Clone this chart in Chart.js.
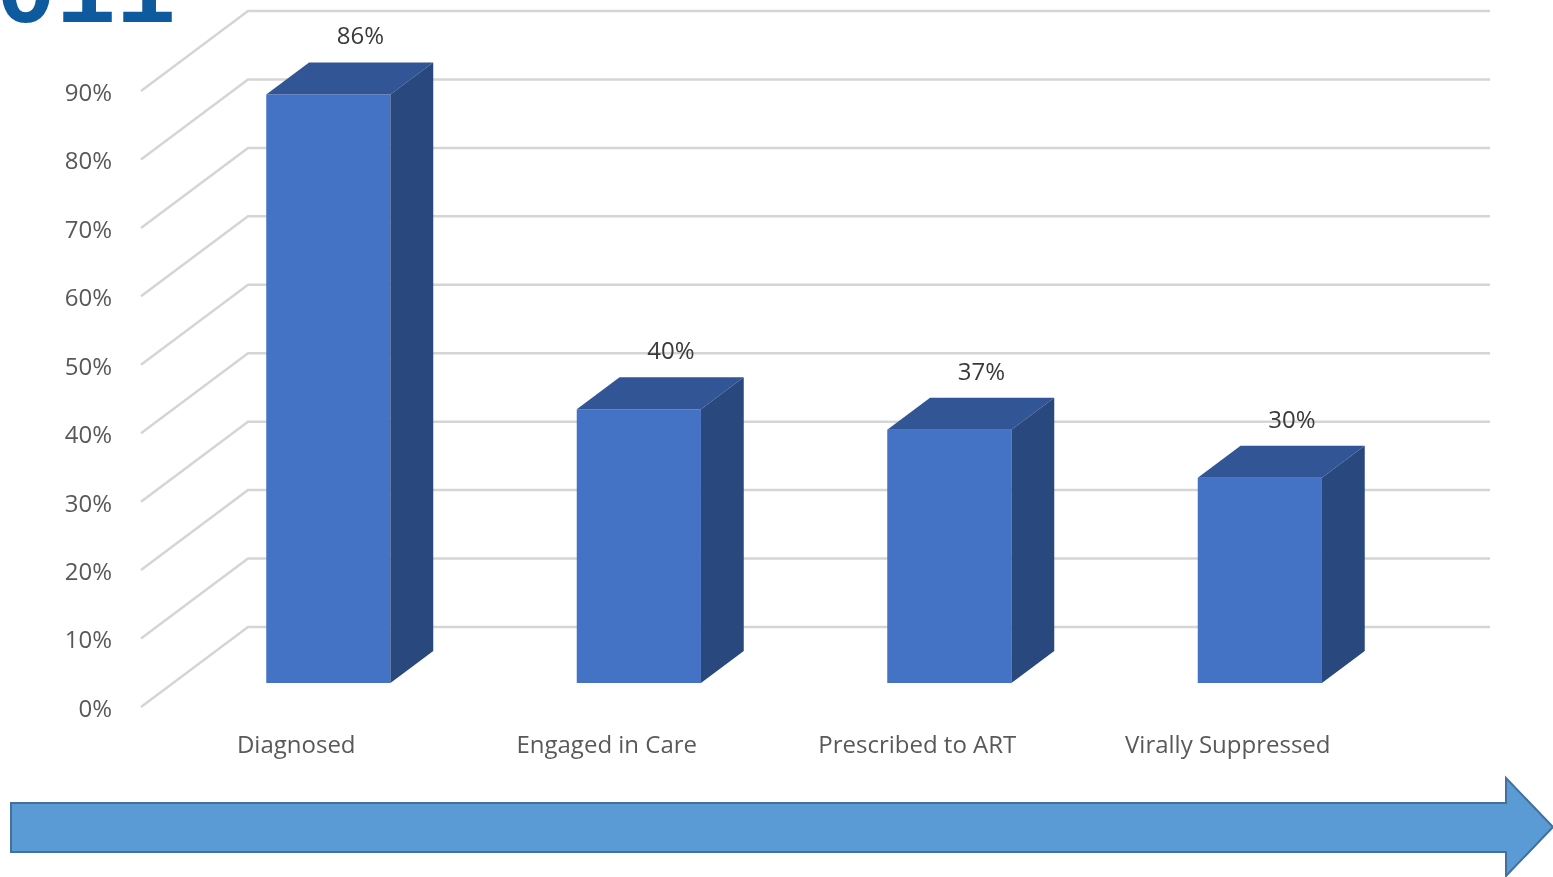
<!DOCTYPE html>
<html><head><meta charset="utf-8">
<script src="https://cdn.jsdelivr.net/npm/chart.js@4/dist/chart.umd.min.js"></script>
<style>
html,body{margin:0;padding:0;background:#fff;overflow:hidden;}
#wrap{position:relative;width:1553px;height:877px;}
#c{position:absolute;left:0;top:0;}
svg{position:absolute;left:0;top:0;}
</style></head><body>
<div id="wrap">
<canvas id="c" width="1553" height="877"></canvas>
<svg width="1553" height="877">
 <text x="-64" y="22" font-family="Liberation Mono" font-weight="bold" font-size="100" fill="#0E5A9E">2011</text>
 <polygon points="11,803 1506,803 1506,778 1553,827 1506,876 1506,852 11,852" fill="#5B9BD5" stroke="#41719C" stroke-width="2"/>
</svg>
</div>
<script>
const categories = ['Diagnosed', 'Engaged in Care', 'Prescribed to ART', 'Virally Suppressed'];
const values = [86, 40, 37, 30];
const yMax = 90;
const yStep = 10;

const FRONT = '#4472C4', TOP = '#325596', SIDE = '#29487D';
const WALL = {dx: 107, dy: -80};
const BAR_FRONT = 0.3, BAR_DEPTH = 0.4;
const FONT = "'Open Sans', 'Noto Sans', sans-serif";

const threeD = {
  id: 'threeD',
  beforeDatasetsDraw(chart) {
    const {ctx, chartArea: a, scales: {y}} = chart;
    ctx.save();
    ctx.strokeStyle = '#D5D5D5';
    ctx.lineWidth = 2.5;
    y.ticks.forEach(t => {
      const py = y.getPixelForValue(t.value);
      ctx.beginPath();
      ctx.moveTo(a.left, py);
      ctx.lineTo(a.left + WALL.dx, py + WALL.dy);
      ctx.lineTo(a.right + WALL.dx, py + WALL.dy);
      ctx.stroke();
    });
    ctx.restore();
    ctx.save();
    ctx.translate(WALL.dx * BAR_FRONT, WALL.dy * BAR_FRONT);
  },
  afterDatasetsDraw(chart) {
    const ctx = chart.ctx;
    const ddx = WALL.dx * BAR_DEPTH, ddy = WALL.dy * BAR_DEPTH;
    const meta = chart.getDatasetMeta(0);
    meta.data.forEach((bar, i) => {
      const {x, y, base, width} = bar.getProps(['x', 'y', 'base', 'width'], true);
      const l = x - width / 2, r = x + width / 2;
      ctx.fillStyle = TOP;
      ctx.beginPath();
      ctx.moveTo(l, y); ctx.lineTo(l + ddx, y + ddy); ctx.lineTo(r + ddx, y + ddy); ctx.lineTo(r, y);
      ctx.closePath(); ctx.fill();
      ctx.fillStyle = SIDE;
      ctx.beginPath();
      ctx.moveTo(r, y); ctx.lineTo(r + ddx, y + ddy); ctx.lineTo(r + ddx, base + ddy); ctx.lineTo(r, base);
      ctx.closePath(); ctx.fill();
      ctx.fillStyle = '#3A3A3A';
      ctx.font = "24px " + FONT;
      ctx.textAlign = 'center';
      ctx.textBaseline = 'middle';
      ctx.fillText(values[i] + '%', x + 32, y + ddy - 25);
    });
    ctx.restore();
  }
};

new Chart(document.getElementById('c'), {
  type: 'bar',
  data: {
    labels: categories,
    datasets: [{
      data: values,
      backgroundColor: FRONT,
      borderWidth: 0,
      categoryPercentage: 1,
      barPercentage: 0.4,
      clip: false
    }]
  },
  options: {
    responsive: false,
    animation: false,
    layout: {padding: {top: 91, right: 170, bottom: 0, left: 0}},
    plugins: {legend: {display: false}, tooltip: {enabled: false}},
    scales: {
      x: {
        grid: {display: false, drawTicks: false},
        border: {display: false},
        ticks: {color: '#595959', font: {size: 24, family: FONT}, padding: 25},
        afterFit(s) { s.height = 170; }
      },
      y: {
        min: 0, max: yMax,
        grid: {display: false, drawTicks: false},
        border: {display: false},
        ticks: {stepSize: yStep, color: '#595959', font: {size: 24, family: FONT}, padding: 29,
                labelOffset: 3, callback: v => v + '%'},
        afterFit(s) { s.width = 141; }
      }
    }
  },
  plugins: [threeD]
});
</script>
</body></html>
